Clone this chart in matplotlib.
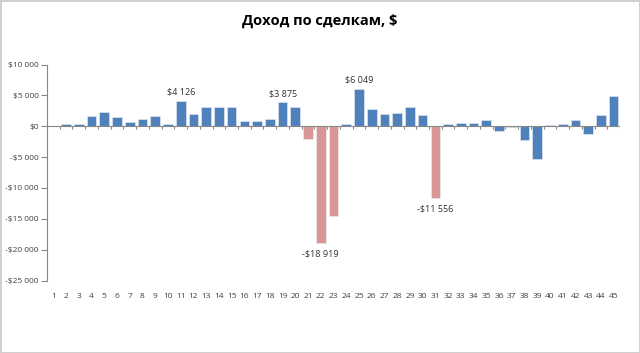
import numpy as np
import matplotlib
matplotlib.use("Agg")
import matplotlib.pyplot as plt
from matplotlib.ticker import FuncFormatter

plt.rcParams['font.family'] = ['Open Sans', 'DejaVu Sans']

# номера сделок и доход по каждой, $
deals = list(range(1, 46))
income = [50, 280, 280, 1600, 2250, 1450, 700, 1100, 1600, 400,
          4126, 1900, 3180, 3180, 3180, 920, 920, 1240, 3875, 3180,
          -2000, -18919, -14500, 320, 6049, 2800, 1940, 2100, 3060, 1770,
          -11556, 320, 480, 590, 970, -800, -200, -2300, -5270, 160,
          320, 1080, -1340, 1770, 4840]
labeled = [11, 19, 22, 25, 31]  # сделки с подписью значения
red_deals = [21, 22, 23, 31]    # крупные убытки выделены цветом

def money(v, pos=None):
    s = f"{abs(int(v)):,}".replace(",", " ")
    return ("-$" if v < 0 else "$") + s

fig = plt.figure(figsize=(6.4, 3.53), dpi=100)
fig.patch.set_edgecolor('#d0d0d0')
fig.patch.set_linewidth(2)
ax = fig.add_axes([47 / 640, 1 - 280.5 / 353, 573 / 640, 216 / 353])

colors = ['#D99694' if d in red_deals else '#4F81BD' for d in deals]
ax.bar(deals, income, width=0.76, color=colors, edgecolor='#e8eef6', linewidth=0.4)

ax.set_xlim(0.5, 45.5)
ax.set_ylim(-25000, 10000)
ax.set_yticks(np.arange(-25000, 10001, 5000))
ax.yaxis.set_major_formatter(FuncFormatter(money))
ax.set_xticks(deals)
ax.set_xticklabels([str(d) for d in deals])

ax.tick_params(axis='y', direction='out', length=4, color='#888888', labelsize=6, labelcolor='#404040', pad=2)
ax.tick_params(axis='x', length=0, labelsize=6, labelcolor='#404040', pad=9)
for s in ['top', 'right', 'bottom']:
    ax.spines[s].set_visible(False)
ax.spines['left'].set_color('#888888')
ax.spines['left'].set_linewidth(0.8)

# ось на нуле с засечками между категориями
ax.axhline(0, color='#888888', linewidth=0.8)
ax.vlines(np.arange(0.5, 46, 1), -500, 0, color='#888888', linewidth=0.8)

for d in labeled:
    v = income[d - 1]
    if v > 0:
        ax.annotate(money(v), (d, v), xytext=(0, 3), textcoords='offset points',
                    ha='center', va='bottom', fontsize=6.5, color='#303030')
    else:
        ax.annotate(money(v), (d, v), xytext=(0, -5), textcoords='offset points',
                    ha='center', va='top', fontsize=6.5, color='#303030')

fig.text(0.5, 1 - 21 / 353, 'Доход по сделкам, $', ha='center', va='center',
         fontsize=10.5, fontweight='bold', color='black')

fig.savefig('out.png', dpi=100, edgecolor=fig.get_edgecolor())
